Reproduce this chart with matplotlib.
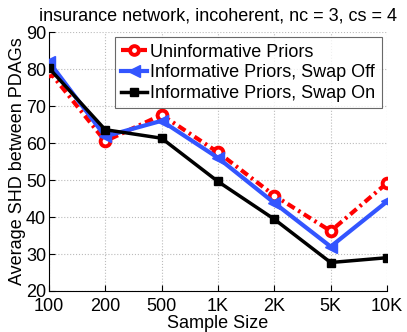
import numpy as np
from matplotlib import pyplot as plt

plt.rcParams["font.family"] = ["Liberation Sans", "DejaVu Sans"]

sizes = ["100", "200", "500", "1K", "2K", "5K", "10K"]
uninformative = [79.5, 60.5, 67.6, 57.5, 45.8, 36.2, 49.2]
swap_off = [82.0, 61.8, 66.0, 56.0, 43.8, 32.0, 44.2]
swap_on = [80.3, 63.6, 61.3, 49.6, 39.4, 27.7, 29.0]

x = np.arange(len(sizes))

fig = plt.figure(figsize=(4.07, 3.32), dpi=100)
ax = fig.add_axes([0.120, 0.1235, 0.831, 0.780])

ax.plot(x, uninformative, color="red", lw=3, dashes=(2, 1, 0.6, 1), marker="o", ms=7,
        mew=2.8, mfc="white", mec="red", label="Uninformative Priors", zorder=3)
ax.plot(x, swap_off, "-", color="#3355ff", lw=3, marker="<", ms=9,
        mfc="#3355ff", mec="#3355ff", label="Informative Priors, Swap Off", zorder=4)
ax.plot(x, swap_on, "-", color="black", lw=2.5, marker="s", ms=6,
        mfc="black", mec="black", label="Informative Priors, Swap On", zorder=5)

ax.set_xlim(0, len(sizes) - 1)
ax.set_ylim(20, 90)
ax.set_xticks(x)
ax.set_xticklabels(sizes)
ax.set_yticks(np.arange(20, 91, 10))
ax.tick_params(direction="in", labelsize=13, length=4)
ax.tick_params(axis="x", pad=5)
ax.tick_params(axis="y", pad=2)
ax.grid(True, linestyle=":", color="#bbbbbb", lw=0.8)
ax.spines["top"].set_visible(False)
ax.spines["right"].set_visible(False)

ax.set_title("insurance network, incoherent, nc = 3, cs = 4", fontsize=13, pad=8)
ax.set_xlabel("Sample Size", fontsize=13, labelpad=0)
ax.set_ylabel("Average SHD between PDAGs", fontsize=13, labelpad=0)

leg = ax.legend(loc="upper right", fontsize=13, fancybox=False, edgecolor="#444444",
                borderpad=0.35, labelspacing=0.2, handlelength=1.4, handletextpad=0.2,
                borderaxespad=0.3, markerscale=0.9)
leg.get_frame().set_linewidth(0.8)

fig.savefig("out.png", dpi=100)
